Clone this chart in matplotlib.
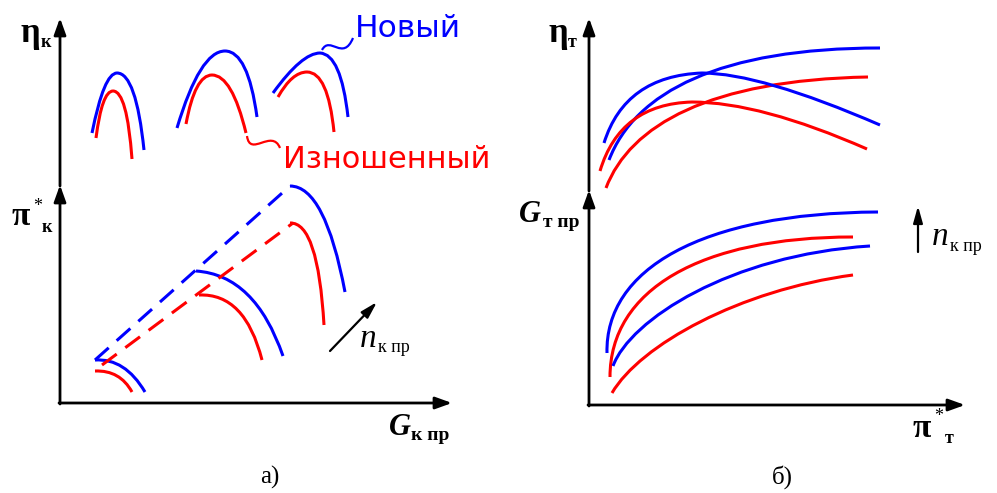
import matplotlib.pyplot as plt
from matplotlib.path import Path
from matplotlib.patches import PathPatch

BLUE = "#0000ff"
RED = "#ff0000"

# --- panel a), upper: eta_k curves (quadratic bezier: start, ctrl, peak, ctrl, end)
eta_k_new_1 = [(92, 133), (104, 73), (117, 73), (136, 73), (144, 150)]
eta_k_old_1 = [(96, 138), (102, 91), (113, 91), (127, 91), (132, 159)]
eta_k_new_2 = [(177, 128), (200, 51), (225, 51), (248, 51), (257, 117)]
eta_k_old_2 = [(186, 124), (195, 75), (212, 75), (232, 75), (246, 133)]
eta_k_new_3 = [(273, 93), (302, 53), (320, 53), (341, 54), (348, 117)]
eta_k_old_3 = [(278, 97), (292, 72), (307, 72), (328, 72), (334, 132)]

# --- panel a), lower: pi_k branches (quadratic bezier: start, ctrl, end)
pi_k_new_1 = [(95, 360), (125, 358), (145, 392)]
pi_k_old_1 = [(95, 371), (120, 370), (132, 392)]
pi_k_new_2 = [(196, 271), (255, 275), (283, 356)]
pi_k_old_2 = [(199, 295), (245, 293), (262, 360)]
pi_k_new_3 = [(290, 186), (325, 186), (345, 292)]
pi_k_old_3 = [(290, 223), (318, 222), (324, 325)]
surge_new = [(95, 360), (290, 186)]
surge_old = [(102, 365), (293, 223)]

# --- panel b), upper: eta_t curves
eta_t_new_a = [(609, 160), (635, 92), (720, 48), (880, 48)]            # cubic
eta_t_old_a = [(606, 188), (630, 125), (710, 80), (868, 77)]           # cubic
eta_t_new_b = [(604, 143), (625, 76), (702, 73), (760, 73), (880, 125)]  # quadratic
eta_t_old_b = [(600, 171), (620, 104), (692, 102), (760, 102), (867, 149)]

# --- panel b), lower: G_t curves (cubic)
g_t_new_1 = [(607, 353), (605, 270), (700, 213), (878, 212)]
g_t_old_1 = [(610, 377), (610, 290), (700, 237), (853, 237)]
g_t_new_2 = [(613, 366), (630, 320), (730, 255), (870, 246)]
g_t_old_2 = [(612, 393), (640, 345), (740, 290), (853, 275)]

# squiggles linking the legend words
squiggle_new = [(322, 50), (330, 35), (343, 62), (353, 38)]
squiggle_old = [(247, 136), (250, 158), (272, 128), (280, 148)]


def curve(ax, pts, color, order=3, lw=2.2, ls="-"):
    step = Path.CURVE3 if order == 3 else Path.CURVE4
    codes = [Path.MOVETO] + [step] * (len(pts) - 1)
    ax.add_patch(PathPatch(Path(pts, codes), fill=False, edgecolor=color,
                           lw=lw, linestyle=ls, capstyle="butt"))


def arrow(ax, start, end, lw=2.0, hl=0.5, hw=0.18):
    ax.annotate("", xy=end, xytext=start,
                arrowprops=dict(arrowstyle=f"-|>,head_length={hl},head_width={hw}",
                                color="black", lw=lw, mutation_scale=20,
                                shrinkA=0, shrinkB=0))


fig = plt.figure(figsize=(9.97, 4.93), dpi=100)
ax = fig.add_axes([0, 0, 1, 1])
ax.set_xlim(0, 997)
ax.set_ylim(493, 0)
ax.axis("off")

# axes of panel a)
arrow(ax, (60, 404), (60, 185))
arrow(ax, (60, 186), (60, 18))
arrow(ax, (59, 403), (452, 403))
# axes of panel b)
arrow(ax, (589, 406), (589, 190))
arrow(ax, (589, 191), (589, 18))
arrow(ax, (588, 405), (965, 405))

for pts in [eta_k_new_1, eta_k_new_2, eta_k_new_3, pi_k_new_1, pi_k_new_2, pi_k_new_3]:
    curve(ax, pts, BLUE)
for pts in [eta_k_old_1, eta_k_old_2, eta_k_old_3, pi_k_old_1, pi_k_old_2, pi_k_old_3]:
    curve(ax, pts, RED)

ax.plot([p[0] for p in surge_new], [p[1] for p in surge_new], color=BLUE, lw=2.2,
        dashes=(6, 3.5))
ax.plot([p[0] for p in surge_old], [p[1] for p in surge_old], color=RED, lw=2.2,
        dashes=(6, 3.5))

curve(ax, eta_t_new_a, BLUE, order=4)
curve(ax, eta_t_old_a, RED, order=4)
curve(ax, eta_t_new_b, BLUE)
curve(ax, eta_t_old_b, RED)
for pts, c in [(g_t_new_1, BLUE), (g_t_old_1, RED), (g_t_new_2, BLUE), (g_t_old_2, RED)]:
    curve(ax, pts, c, order=4)

curve(ax, squiggle_new, BLUE, order=4, lw=1.6)
curve(ax, squiggle_old, RED, order=4, lw=1.6)

# n_k pr arrows
arrow(ax, (330, 351), (377, 302), lw=1.6, hl=0.5, hw=0.14)
arrow(ax, (918, 252), (918, 206), lw=1.6, hl=0.5, hw=0.14)

serif = "Liberation Serif"
bold = dict(family=serif, weight="bold", va="baseline", ha="left")

# panel a) labels
ax.text(20, 42, "η", fontsize=25, **bold)
ax.text(41, 47, "к", fontsize=13, **bold)
ax.text(12, 225, "π", fontsize=24, **bold)
ax.text(33, 211, "*", fontsize=13, family=serif, va="baseline")
ax.text(42, 232, "к", fontsize=13, **bold)
ax.text(389, 435, "G", fontsize=22, style="italic", **bold)
ax.text(411, 440, "к пр", fontsize=14, **bold)
ax.text(360, 347, "n", fontsize=24, family=serif, style="italic", va="baseline")
ax.text(378, 352, "к пр", fontsize=13, family=serif, va="baseline")
ax.text(270, 484, "а)", fontsize=18, family=serif, ha="center", va="baseline")

ax.text(355, 37, "Новый", fontsize=22.5, family="DejaVu Sans", color=BLUE,
        va="baseline")
ax.text(283, 168, "Изношенный", fontsize=22, family="DejaVu Sans", color=RED,
        va="baseline")

# panel b) labels
ax.text(548, 42, "η", fontsize=25, **bold)
ax.text(568, 47, "т", fontsize=13, **bold)
ax.text(519, 222, "G", fontsize=22, style="italic", **bold)
ax.text(543, 227, "т пр", fontsize=14, **bold)
ax.text(913, 437, "π", fontsize=24, **bold)
ax.text(934, 421, "*", fontsize=13, family=serif, va="baseline")
ax.text(945, 443, "т", fontsize=13, **bold)
ax.text(932, 245, "n", fontsize=24, family=serif, style="italic", va="baseline")
ax.text(950, 251, "к пр", fontsize=13, family=serif, va="baseline")
ax.text(782, 484, "б)", fontsize=18, family=serif, ha="center", va="baseline")

fig.savefig("out.png", dpi=100)
